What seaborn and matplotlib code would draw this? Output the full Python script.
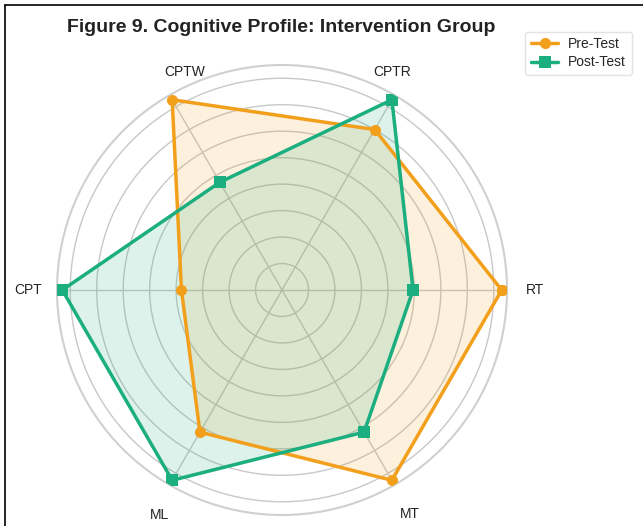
import numpy as np
import pandas as pd
import matplotlib
matplotlib.use("Agg")
import matplotlib.pyplot as plt
from matplotlib.lines import Line2D
import seaborn as sns

# data
categories = ["RT", "CPTR", "CPTW", "CPT", "ML", "MT"]
pre_test = [83, 70, 83, 38, 62, 83]
post_test = [49.5, 83, 47, 83, 83, 62]

sns.set_style("whitegrid")
plt.rcParams["font.family"] = ["Liberation Sans", "DejaVu Sans"]

orange = "#F29F1B"
green = "#1BAE7F"

angles = np.linspace(0, 2 * np.pi, len(categories), endpoint=False)

fig = plt.figure(figsize=(6.43, 5.26), dpi=100)
ax = fig.add_axes([0.0886, 0.0209, 0.700, 0.8555], projection="polar")


def closed(vals):
    return pd.DataFrame({"theta": np.append(angles, angles[0] + 2 * np.pi),
                         "r": np.append(vals, vals[0])})


def straight_outline(vals, steps=40):
    # polygon edges straight on screen, expressed back in (theta, r)
    th = np.append(angles, angles[0])
    rr = np.append(vals, vals[0])
    x = rr * np.cos(th)
    y = rr * np.sin(th)
    xs, ys = [], []
    for i in range(len(th) - 1):
        t = np.linspace(0, 1, steps, endpoint=False)
        xs.append(x[i] + (x[i + 1] - x[i]) * t)
        ys.append(y[i] + (y[i + 1] - y[i]) * t)
    xs = np.concatenate(xs)
    ys = np.concatenate(ys)
    return np.unwrap(np.arctan2(ys, xs)), np.hypot(xs, ys)


pre_df = closed(pre_test)
post_df = closed(post_test)

for vals, col in [(pre_test, orange), (post_test, green)]:
    th, rr = straight_outline(vals)
    ax.fill(th, rr, color=col, alpha=0.15, zorder=2, linewidth=0)

sns.lineplot(data=pre_df, x="theta", y="r", sort=False, estimator=None, ax=ax,
             color=orange, linewidth=2.5, marker="o", markersize=8,
             markeredgewidth=0, label="Pre-Test", zorder=3)
sns.lineplot(data=post_df, x="theta", y="r", sort=False, estimator=None, ax=ax,
             color=green, linewidth=2.5, marker="s", markersize=8,
             markeredgewidth=0, label="Post-Test", zorder=3)

ax.set_ylim(0, 85)
ax.set_yticks([10, 20, 30, 40, 50, 60, 70, 80])
ax.set_yticklabels([])
ax.set_xticks(angles)
ax.set_xticklabels([])
ax.set_xlabel("")
ax.set_ylabel("")
ax.grid(color="#c8c8c8", linewidth=1.0)
ax.spines["polar"].set_color("#d0d0d0")
ax.spines["polar"].set_linewidth(1.5)

# category labels, placed where they sit in the reference
label_pos = [(0, 95.6), (63.2, 92.2), (114, 90.1), (180, 96), (241.5, 96.7), (299.6, 97.5)]
for name, (deg, rad) in zip(categories, label_pos):
    ax.text(np.deg2rad(deg), rad, name, ha="center", va="center",
            fontsize=10, color="#222222", clip_on=False)

fig.text(0.438, 0.948, "Figure 9. Cognitive Profile: Intervention Group",
         ha="center", va="center", fontsize=14, fontweight="bold", color="#222222")

ax.legend(loc="upper right", bbox_to_anchor=(0.993, 0.953),
          bbox_transform=fig.transFigure, fontsize=10, frameon=True,
          edgecolor="#dddddd", handlelength=2.0, borderpad=0.4,
          labelspacing=0.3, handletextpad=0.7)

# thin black frame on the left and top edges of the screenshot
fig.add_artist(Line2D([0.007, 0.007], [0.0, 0.991], transform=fig.transFigure,
                      color="black", linewidth=1.2))
fig.add_artist(Line2D([0.007, 1.0], [0.991, 0.991], transform=fig.transFigure,
                      color="black", linewidth=1.2))

fig.savefig("out.png", dpi=100)
